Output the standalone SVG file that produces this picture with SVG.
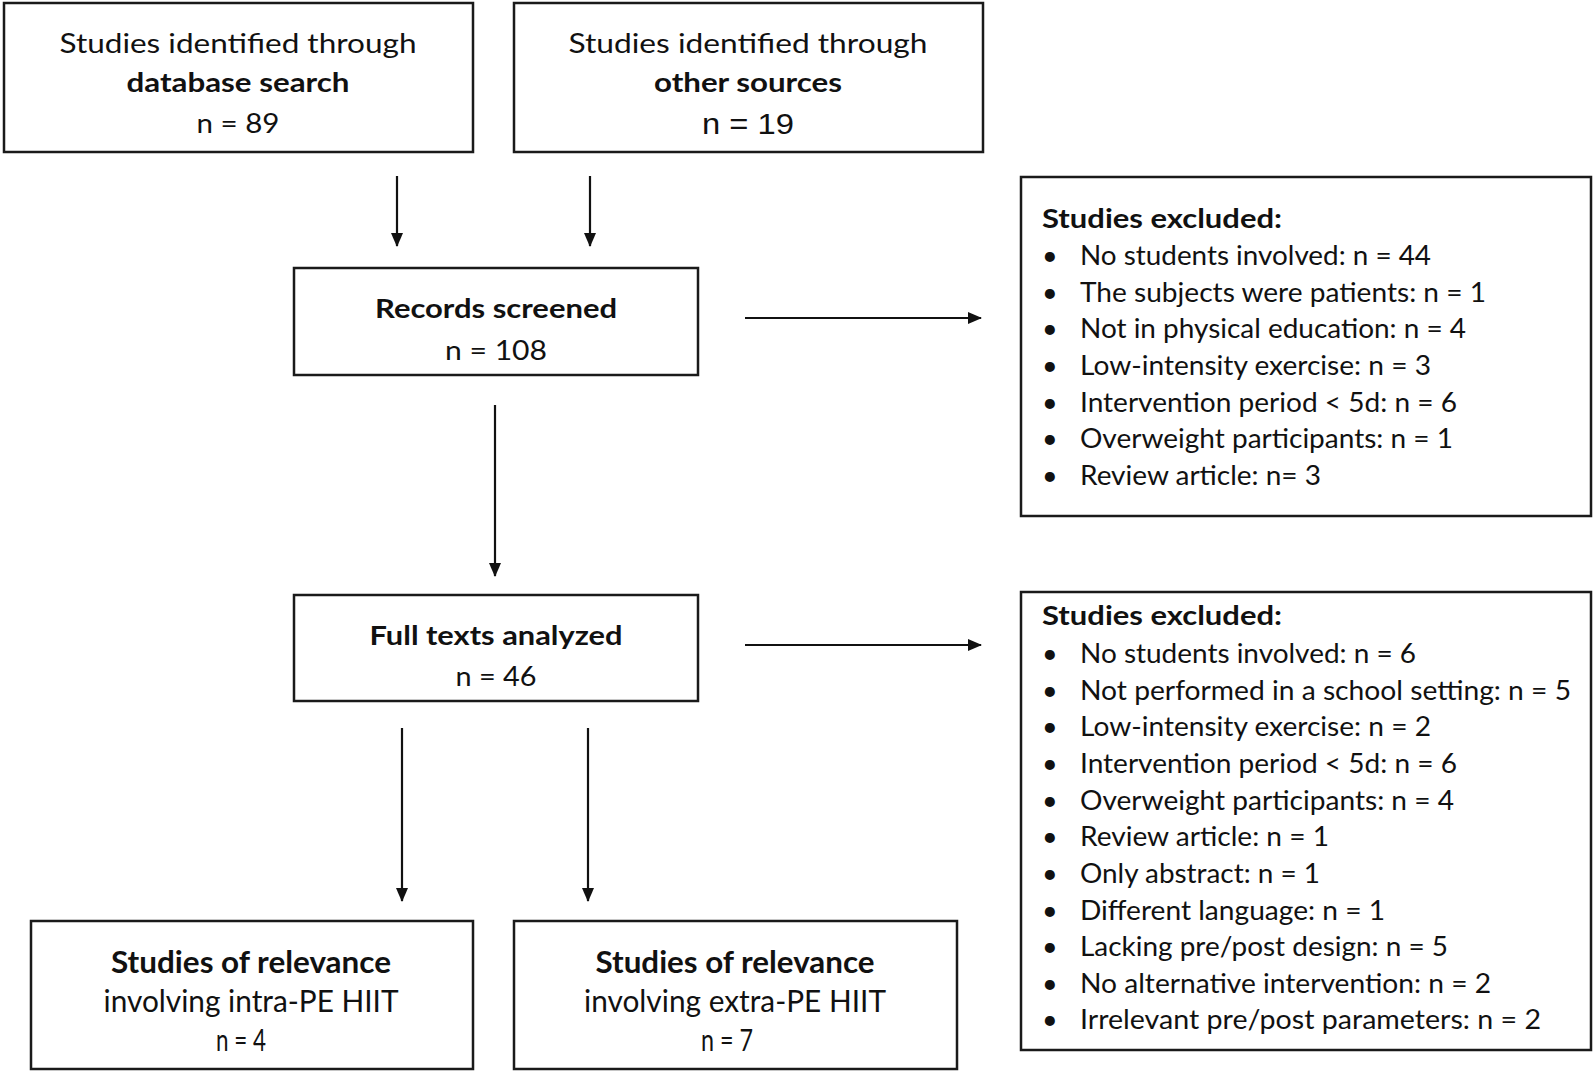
<svg xmlns="http://www.w3.org/2000/svg" width="1594" height="1074" viewBox="0 0 1594 1074">
<style>
.box{fill:#fff;stroke:#1a1a1a;stroke-width:2.5}
.t{font-family:Lato,"Open Sans","Liberation Sans",sans-serif;font-size:27px;fill:#111}
.c{text-anchor:middle}
.b{font-weight:bold}
.tall{font-size:30px}
.a{font-family:"Liberation Sans",Arial,sans-serif;font-size:30px;fill:#111}
.ln{stroke:#111;stroke-width:2.2;fill:none;marker-end:url(#ah)}
</style>
<defs>
<marker id="ah" markerWidth="14" markerHeight="12" refX="13" refY="6" orient="auto" markerUnits="userSpaceOnUse">
<path d="M0,0 L14,6 L0,12 Z" fill="#111"/>
</marker>
</defs>
<rect width="1594" height="1074" fill="#fff"/>
<g id="connectors">
<line class="ln" x1="397" y1="176" x2="397" y2="246"/>
<line class="ln" x1="590" y1="176" x2="590" y2="246"/>
<line class="ln" x1="745" y1="318" x2="981" y2="318"/>
<line class="ln" x1="495" y1="405" x2="495" y2="576"/>
<line class="ln" x1="745" y1="645" x2="981" y2="645"/>
<line class="ln" x1="402" y1="728" x2="402" y2="901"/>
<line class="ln" x1="588" y1="728" x2="588" y2="901"/>
</g>
<g id="db-search">
<rect class="box" x="4" y="3" width="469" height="149"/>
<text class="t c" x="238" y="53" textLength="357" lengthAdjust="spacingAndGlyphs">Studies identified through</text>
<text class="t c b" x="238" y="92" textLength="223" lengthAdjust="spacingAndGlyphs">database search</text>
<text class="t c" x="238" y="133" textLength="83" lengthAdjust="spacingAndGlyphs">n = 89</text>
</g>
<g id="other-sources">
<rect class="box" x="514" y="3" width="469" height="149"/>
<text class="t c" x="748" y="53" textLength="359" lengthAdjust="spacingAndGlyphs">Studies identified through</text>
<text class="t c b" x="748" y="92" textLength="188" lengthAdjust="spacingAndGlyphs">other sources</text>
<text class="a c" x="748" y="134" textLength="92" lengthAdjust="spacingAndGlyphs">n = 19</text>
</g>
<g id="records-screened">
<rect class="box" x="294" y="268" width="404" height="107"/>
<text class="t c b" x="496" y="318" textLength="242" lengthAdjust="spacingAndGlyphs">Records screened</text>
<text class="t c" x="496" y="360" textLength="102" lengthAdjust="spacingAndGlyphs">n = 108</text>
</g>
<g id="full-texts">
<rect class="box" x="294" y="595" width="404" height="106"/>
<text class="t c b" x="496" y="645" textLength="253" lengthAdjust="spacingAndGlyphs">Full texts analyzed</text>
<text class="t c" x="496" y="686" textLength="81" lengthAdjust="spacingAndGlyphs">n = 46</text>
</g>
<g id="intra-pe">
<rect class="box" x="31" y="921" width="442" height="148"/>
<text class="t tall c b" x="251" y="973" textLength="280" lengthAdjust="spacingAndGlyphs">Studies of relevance</text>
<text class="t tall c" x="251" y="1012" textLength="295" lengthAdjust="spacingAndGlyphs">involving intra-PE HIIT</text>
<text class="t tall c" x="241" y="1051" textLength="50" lengthAdjust="spacingAndGlyphs">n = 4</text>
</g>
<g id="extra-pe">
<rect class="box" x="514" y="921" width="443" height="148"/>
<text class="t tall c b" x="735" y="973" textLength="279" lengthAdjust="spacingAndGlyphs">Studies of relevance</text>
<text class="t tall c" x="735" y="1012" textLength="302" lengthAdjust="spacingAndGlyphs">involving extra-PE HIIT</text>
<text class="t tall c" x="727" y="1051" textLength="52" lengthAdjust="spacingAndGlyphs">n = 7</text>
</g>
<g id="excluded-1">
<rect class="box" x="1021" y="177" width="570" height="339"/>
<text class="t b" x="1042" y="228" textLength="240" lengthAdjust="spacingAndGlyphs">Studies excluded:</text>
<g class="t">
<text x="1042" y="265">•</text><text x="1080" y="265" textLength="351" lengthAdjust="spacingAndGlyphs">No students involved:  n = 44</text>
<text x="1042" y="302">•</text><text x="1080" y="302" textLength="406" lengthAdjust="spacingAndGlyphs">The subjects were patients: n = 1</text>
<text x="1042" y="338">•</text><text x="1080" y="338" textLength="386" lengthAdjust="spacingAndGlyphs">Not in physical education: n = 4</text>
<text x="1042" y="375">•</text><text x="1080" y="375" textLength="351" lengthAdjust="spacingAndGlyphs">Low-intensity exercise:  n = 3</text>
<text x="1042" y="412">•</text><text x="1080" y="412" textLength="377" lengthAdjust="spacingAndGlyphs">Intervention period &lt; 5d: n = 6</text>
<text x="1042" y="448">•</text><text x="1080" y="448" textLength="373" lengthAdjust="spacingAndGlyphs">Overweight participants: n = 1</text>
<text x="1042" y="485">•</text><text x="1080" y="485" textLength="241" lengthAdjust="spacingAndGlyphs">Review article: n= 3</text>
</g>
</g>
<g id="excluded-2">
<rect class="box" x="1021" y="592" width="570" height="458"/>
<text class="t b" x="1042" y="625" textLength="240" lengthAdjust="spacingAndGlyphs">Studies excluded:</text>
<g class="t">
<text x="1042" y="663">•</text><text x="1080" y="663" textLength="336" lengthAdjust="spacingAndGlyphs">No students involved:  n = 6</text>
<text x="1042" y="700">•</text><text x="1080" y="700" textLength="491" lengthAdjust="spacingAndGlyphs">Not performed in a school setting: n = 5</text>
<text x="1042" y="736">•</text><text x="1080" y="736" textLength="351" lengthAdjust="spacingAndGlyphs">Low-intensity exercise:  n = 2</text>
<text x="1042" y="773">•</text><text x="1080" y="773" textLength="377" lengthAdjust="spacingAndGlyphs">Intervention period &lt; 5d: n = 6</text>
<text x="1042" y="810">•</text><text x="1080" y="810" textLength="374" lengthAdjust="spacingAndGlyphs">Overweight participants: n = 4</text>
<text x="1042" y="846">•</text><text x="1080" y="846" textLength="249" lengthAdjust="spacingAndGlyphs">Review article: n = 1</text>
<text x="1042" y="883">•</text><text x="1080" y="883" textLength="240" lengthAdjust="spacingAndGlyphs">Only abstract: n = 1</text>
<text x="1042" y="920">•</text><text x="1080" y="920" textLength="305" lengthAdjust="spacingAndGlyphs">Different language: n = 1</text>
<text x="1042" y="956">•</text><text x="1080" y="956" textLength="368" lengthAdjust="spacingAndGlyphs">Lacking pre/post design: n = 5</text>
<text x="1042" y="993">•</text><text x="1080" y="993" textLength="411" lengthAdjust="spacingAndGlyphs">No alternative intervention: n = 2</text>
<text x="1042" y="1029">•</text><text x="1080" y="1029" textLength="461" lengthAdjust="spacingAndGlyphs">Irrelevant pre/post parameters: n = 2</text>
</g>
</g>
</svg>
